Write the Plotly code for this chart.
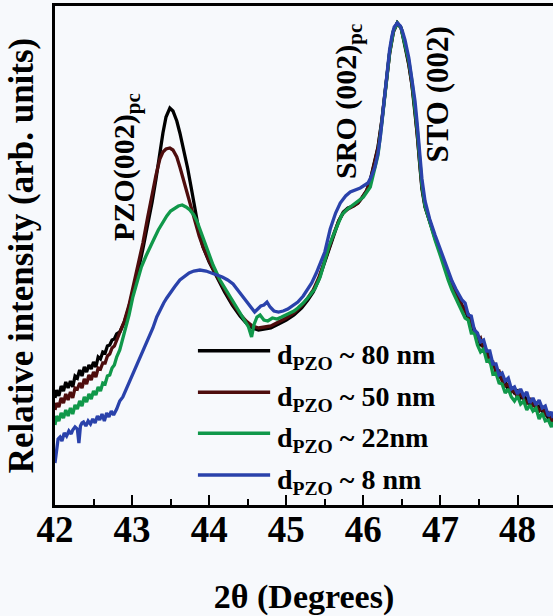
import plotly.graph_objects as go

# ---- 2theta grids (degrees) ----
tth_left = [42.00, 42.02, 42.05, 42.08, 42.11, 42.14, 42.17, 42.20, 42.23, 42.26,
            42.29, 42.32, 42.35, 42.38, 42.41, 42.44, 42.47, 42.50, 42.53, 42.56,
            42.59, 42.62, 42.65, 42.68, 42.71, 42.74, 42.77, 42.80, 42.84]

tth_mid_thick = [42.90, 42.96, 43.02, 43.08, 43.14, 43.20, 43.26, 43.31, 43.36, 43.40,
                 43.44, 43.49, 43.53, 43.58, 43.62, 43.67, 43.72, 43.77, 43.82, 43.87,
                 43.92, 44.00, 44.10, 44.20, 44.30, 44.40, 44.48, 44.56, 44.64, 44.72,
                 44.80, 44.90, 45.00, 45.10, 45.20, 45.28, 45.35, 45.42, 45.50, 45.56,
                 45.62, 45.68, 45.74, 45.80, 45.87, 45.93, 45.98, 46.04, 46.09, 46.14,
                 46.19, 46.24, 46.29, 46.34, 46.39, 46.44, 46.49, 46.54, 46.59, 46.63,
                 46.67, 46.70, 46.73, 46.76, 46.80, 46.86, 46.93, 47.00, 47.05, 47.10,
                 47.15, 47.20, 47.25, 47.28]

tth_mid_22 = [42.90, 42.96, 43.01, 43.07, 43.12, 43.18, 43.23, 43.29, 43.34, 43.40,
              43.45, 43.50, 43.55, 43.60, 43.65, 43.70, 43.75, 43.80, 43.84, 43.90,
              43.97, 44.05, 44.14, 44.22, 44.30, 44.38, 44.46, 44.51, 44.55, 44.58,
              44.62, 44.66, 44.71, 44.76, 44.82, 44.88, 44.94, 45.00, 45.05, 45.10,
              45.15, 45.22, 45.30, 45.37, 45.44, 45.50, 45.55, 45.60, 45.66, 45.72,
              45.78, 45.83, 45.90, 46.00, 46.09, 46.14, 46.19, 46.24, 46.29, 46.34,
              46.39, 46.44, 46.49, 46.54, 46.59, 46.63, 46.67, 46.70, 46.73, 46.76,
              46.80, 46.86, 46.93, 47.00, 47.05, 47.10, 47.15, 47.20, 47.25, 47.28]

tth_8 = [42.00, 42.02, 42.04, 42.065, 42.09, 42.12, 42.15, 42.18, 42.21, 42.23,
         42.26, 42.29, 42.31, 42.33, 42.35, 42.37, 42.40, 42.43, 42.46, 42.49,
         42.52, 42.55, 42.58, 42.61, 42.64, 42.67, 42.70, 42.73, 42.76, 42.80,
         42.84, 42.88, 42.93, 42.97, 43.02, 43.06, 43.10, 43.15, 43.19, 43.23,
         43.27, 43.32, 43.36, 43.41, 43.45, 43.50, 43.55, 43.62, 43.68, 43.74,
         43.80, 43.88, 43.96, 44.03, 44.10, 44.17, 44.24, 44.31, 44.38, 44.45,
         44.52, 44.59, 44.63, 44.67, 44.71, 44.75, 44.79, 44.84, 44.90, 44.96,
         45.02, 45.08, 45.15, 45.22, 45.28, 45.33, 45.39, 45.44, 45.50, 45.57,
         45.64, 45.70, 45.77, 45.83, 45.90, 45.96, 46.02, 46.06, 46.10, 46.15,
         46.19, 46.22, 46.25, 46.28, 46.31, 46.34, 46.37, 46.40, 46.44, 46.48,
         46.51, 46.54, 46.59, 46.63, 46.67, 46.70, 46.73, 46.76, 46.80, 46.86,
         46.93, 47.00, 47.05, 47.10, 47.15, 47.20, 47.25, 47.28]

tth_tail = [47.32, 47.36, 47.40, 47.44, 47.48, 47.52, 47.56, 47.60, 47.64, 47.68,
            47.72, 47.76, 47.80, 47.84, 47.88, 47.92, 47.96, 48.00, 48.04, 48.08,
            48.12, 48.16, 48.20, 48.24, 48.28, 48.32, 48.36, 48.40, 48.44, 48.46]

# ---- intensities (arb. units) ----
int_80_left = [107, 115, 109, 119, 114, 123, 117, 124, 118, 129, 127, 135, 129, 138, 133,
               140, 136, 143, 138, 148, 146, 153, 152, 159, 160, 165, 166, 171, 173]
int_80_mid = [183, 198, 215, 235, 256, 279, 303, 326, 352, 372,
              388, 397, 394, 384, 372, 356, 337, 316, 293, 273,
              258, 243, 228, 213, 200, 189, 182, 177, 175, 176,
              177, 181, 185, 190, 197, 205, 213, 225, 243, 257,
              271, 284, 293, 297, 299, 302, 307, 314, 325, 340,
              358, 385, 418, 452, 474, 482, 477, 460, 440, 420,
              393, 370, 342, 316, 298, 283, 267, 252, 240, 229,
              220, 211, 205, 199]
int_80_tail = [196, 186, 184, 173, 169, 160, 159, 154, 144, 139, 138, 128, 127, 123, 115,
               117, 112, 114, 107, 109, 106, 100, 104, 97, 99, 94, 95, 86, 89, 85]

int_50_left = [95, 102, 98, 107, 102, 111, 105, 113, 107, 117, 116, 122, 117, 126, 121,
               130, 125, 133, 128, 137, 136, 142, 142, 149, 151, 157, 159, 165, 171]
int_50_mid = [184, 200, 220, 240, 262, 287, 311, 330, 346, 353,
              356, 357, 355, 348, 338, 324, 310, 295, 281, 269,
              258, 244, 229, 215, 202, 191, 184, 179, 177, 178,
              179, 183, 187, 192, 199, 207, 215, 227, 244, 258,
              272, 284, 292, 296, 299, 302, 307, 314, 324, 339,
              357, 384, 417, 451, 473, 482, 477, 461, 441, 421,
              395, 372, 344, 318, 299, 283, 267, 252, 240, 229,
              220, 211, 205, 199]
int_50_tail = [193, 191, 180, 176, 164, 167, 156, 152, 143, 143, 133, 134, 124, 119, 121,
               113, 115, 107, 112, 106, 102, 107, 99, 100, 94, 97, 90, 92, 83, 87]

int_22_left = [80, 89, 84, 92, 87, 95, 89, 97, 91, 100, 96, 104, 99, 108, 103,
               111, 106, 114, 110, 118, 114, 122, 121, 129, 130, 137, 140, 148, 155]
int_22_mid = [172, 190, 208, 225, 238, 249, 258, 267, 275, 283,
              289, 294, 297, 299, 300, 298, 295, 290, 284, 272,
              258, 240, 225, 215, 205, 194, 185, 178, 168, 180,
              188, 190, 185, 184, 187, 186, 188, 190, 192, 194,
              197, 202, 209, 216, 228, 245, 258, 268, 280, 290,
              295, 298, 302, 308, 318, 333, 350, 382, 416, 452,
              474, 482, 477, 462, 444, 424, 398, 375, 347, 320,
              299, 282, 265, 249, 236, 225, 215, 207, 200, 195]
int_22_tail = [187, 185, 172, 172, 160, 153, 156, 144, 145, 131, 132, 122, 121, 112, 116,
               108, 104, 109, 101, 104, 95, 100, 94, 97, 86, 92, 84, 85, 78, 83]

int_8_main = [42, 58, 66, 68, 64, 72, 69, 74, 71, 75,
              78, 76, 62, 79, 82, 83, 79, 84, 81, 86,
              82, 89, 85, 91, 84, 92, 88, 94, 90, 96,
              104, 108, 117, 124, 132, 139, 146, 156, 164, 170,
              177, 188, 195, 202, 207, 213, 218, 225, 229, 232,
              234, 235, 234, 232, 230, 228, 225, 221, 214, 207,
              199, 193, 196, 199, 200, 203, 198, 194, 193, 194,
              196, 199, 203, 209, 216, 222, 232, 242, 253, 276,
              292, 302, 309, 313, 315, 317, 320, 322, 328, 338,
              352, 368, 390, 412, 434, 455, 469, 478, 482, 479,
              473, 465, 447, 428, 404, 380, 353, 326, 304, 286,
              270, 255, 244, 234, 224, 216, 209, 205]
int_8_tail = [202, 190, 189, 175, 172, 163, 165, 154, 154, 141, 141, 130, 132, 124, 127,
              116, 118, 111, 116, 109, 113, 102, 107, 100, 105, 97, 99, 89, 93, 87]

labels = ["d<sub>PZO</sub> ~ 80 nm", "d<sub>PZO</sub> ~ 50 nm",
          "d<sub>PZO</sub> ~ 22nm", "d<sub>PZO</sub> ~ 8 nm"]
colors = ["#000000", "#4e0d0d", "#10984a", "#2a42ab"]

series = [
    (tth_left + tth_mid_thick + tth_tail, int_80_left + int_80_mid + int_80_tail),
    (tth_left + tth_mid_thick + tth_tail, int_50_left + int_50_mid + int_50_tail),
    (tth_left + tth_mid_22 + tth_tail, int_22_left + int_22_mid + int_22_tail),
    (tth_8 + tth_tail, int_8_main + int_8_tail),
]
for xs, ys in series:
    assert len(xs) == len(ys)

SERIF = "Liberation Serif, Times New Roman, serif"
BG = "#f7f9fc"

fig = go.Figure()
for (xs, ys), name, col in zip(series, labels, colors):
    fig.add_trace(go.Scatter(x=xs, y=ys, mode="lines", name=name,
                             line=dict(color=col, width=3.3), showlegend=False))

# hand-placed legend: sample line + label per series
leg_y = [0.309, 0.226, 0.144, 0.060]
for yy, name, col in zip(leg_y, labels, colors):
    fig.add_shape(type="line", xref="paper", yref="paper",
                  x0=0.287, x1=0.432, y0=yy, y1=yy,
                  line=dict(color=col, width=3.5))
    fig.add_annotation(xref="paper", yref="paper", x=0.442, y=yy,
                       xanchor="left", yanchor="middle", yshift=-6,
                       text=name, showarrow=False,
                       font=dict(family=SERIF, size=28, color="black", weight="bold"))

# peak labels
peak_font = dict(family=SERIF, size=30, color="black", weight="bold")
fig.add_annotation(x=42.92, y=338, text="PZO(002)<sub>pc</sub>", textangle=-90,
                   showarrow=False, font=peak_font)
fig.add_annotation(x=45.80, y=404, text="SRO (002)<sub>pc</sub>", textangle=-90,
                   showarrow=False, font=peak_font)
fig.add_annotation(x=46.95, y=410, text="STO (002)", textangle=-90,
                   showarrow=False, font=dict(family=SERIF, size=31, color="black",
                                              weight="bold"))

fig.update_xaxes(
    range=[42, 48.46],
    tickvals=[42, 43, 44, 45, 46, 47, 48],
    ticks="inside", ticklen=10, tickwidth=2, tickcolor="black",
    minor=dict(dtick=0.5, ticks="inside", ticklen=6, tickwidth=2, tickcolor="black"),
    showline=True, linewidth=2.5, linecolor="black", mirror=True,
    showgrid=False, zeroline=False,
    ticklabelstandoff=-10,
    tickfont=dict(family=SERIF, size=37, color="black", weight="bold"),
    title=dict(text="2θ (Degrees)", standoff=40,
               font=dict(family=SERIF, size=34, color="black", weight="bold")),
)
fig.update_yaxes(
    range=[0, 499],
    showticklabels=False, ticks="",
    showline=True, linewidth=2.5, linecolor="black", mirror=False,
    showgrid=False, zeroline=False,
    title=dict(text="Relative intensity (arb. units)", standoff=9,
               font=dict(family=SERIF, size=35, color="black", weight="bold")),
)
fig.update_layout(
    width=553, height=616,
    margin=dict(l=55, r=0, t=6, b=111),
    paper_bgcolor=BG, plot_bgcolor=BG,
)

fig.write_html("out.html")
